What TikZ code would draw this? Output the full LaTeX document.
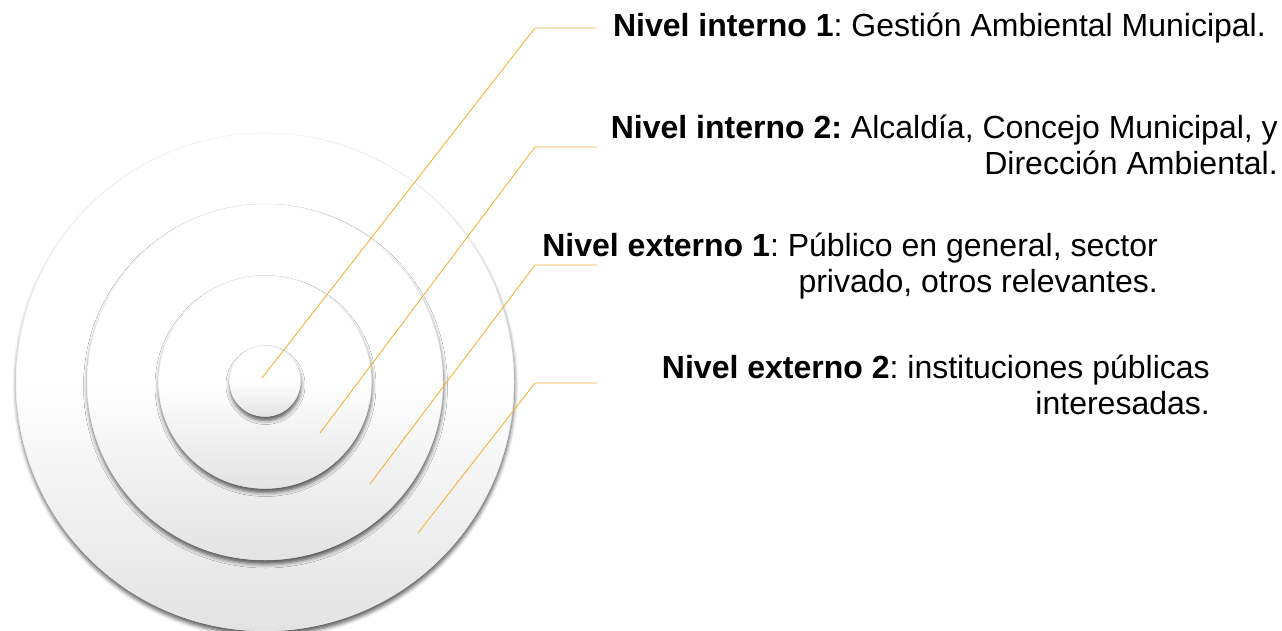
\documentclass[tikz,border=0pt]{standalone}
\usepackage{fontspec}
\setmainfont{Liberation Sans}
\usetikzlibrary{shadows.blur}
\definecolor{leadorange}{HTML}{F4B23E}
\frenchspacing

\begin{document}
\begin{tikzpicture}[x=1pt,y=-1pt,
	ring/.style={circle,draw=gray!15,line width=0.5pt,inner sep=0pt,
		top color=white,bottom color=gray!22,middle color=white,
		blur shadow={shadow xshift=0.5pt,shadow yshift=-4pt,shadow blur radius=4pt,shadow opacity=65}},
	lbl/.style={align=right,anchor=east,inner sep=0pt,font=\fontsize{32}{35.5}\selectfont},
	lead/.style={leadorange,line width=0.9pt}]
	\useasboundingbox (0,0) rectangle (1282,631);
	\node[ring,minimum size=498pt] (R4) at (265,382) {};
	\node[ring,minimum size=356pt] (R3) at (265,382) {};
	\node[ring,minimum size=213pt] (R2) at (265,382) {};
	\node[ring,minimum size=71pt] (R1) at (265,381) {};
	\node[lbl] (N1) at (1266,28) {\textbf{Nivel interno 1}: Gestión Ambiental Municipal.};
	\node[lbl] (N2) at (1278,145) {\textbf{Nivel interno 2:} Alcaldía, Concejo Municipal, y\\Dirección Ambiental.};
	\node[lbl] (N3) at (1158,266) {\textbf{Nivel externo 1}: Público en general, sector\\privado, otros relevantes.};
	\node[lbl] (N4) at (1210,385) {\textbf{Nivel externo 2}: instituciones públicas\\interesadas.};
	\coordinate (A1) at (262,378);
	\coordinate (A2) at (320,433);
	\coordinate (A3) at (370,484);
	\coordinate (A4) at (418,533);
	\coordinate (K1) at (535,28);
	\coordinate (K2) at (535,147);
	\coordinate (K3) at (535,265);
	\coordinate (K4) at (535,383);
	\coordinate (E1) at (597,28);
	\coordinate (E2) at (597,147);
	\coordinate (E3) at (597,265);
	\coordinate (E4) at (597,383);
	\draw[lead] (A1) -- (K1) -- (E1);
	\draw[lead] (A2) -- (K2) -- (E2);
	\draw[lead] (A3) -- (K3) -- (E3);
	\draw[lead] (A4) -- (K4) -- (E4);
\end{tikzpicture}
\end{document}
